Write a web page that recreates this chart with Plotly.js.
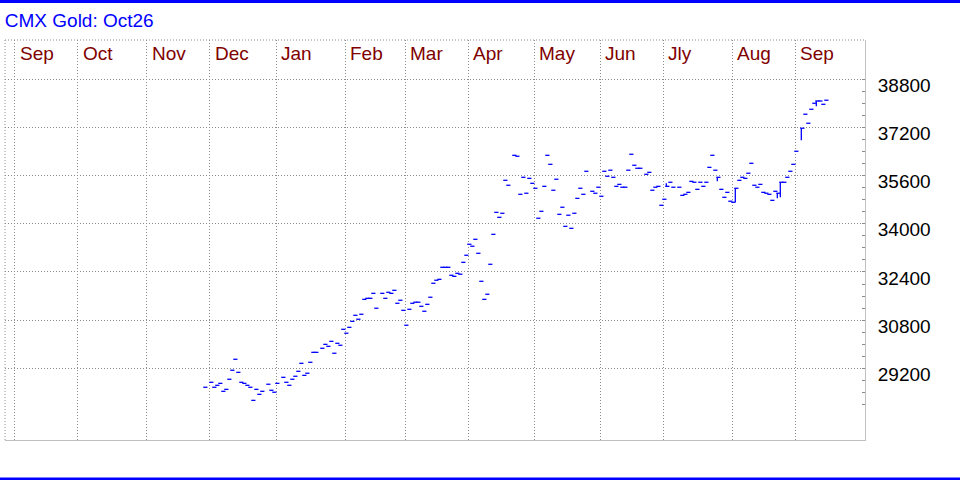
<!DOCTYPE html>
<html><head><meta charset="utf-8">
<script src="https://cdn.plot.ly/plotly-3.0.1.min.js"></script>
<style>html,body{margin:0;padding:0;background:#fff;}#chart{width:960px;height:480px;}</style>
</head><body><div id="chart"></div>
<script>
const chartTitle = 'CMX Gold: Oct26';
const monthLabels = ['Sep','Oct','Nov','Dec','Jan','Feb','Mar','Apr','May','Jun','Jly','Aug','Sep'];
const monthStarts = ['2024-09-02','2024-10-01','2024-11-01','2024-12-02','2025-01-01','2025-02-03',
  '2025-03-03','2025-04-01','2025-05-01','2025-06-02','2025-07-01','2025-08-01','2025-09-01'];
const yTicks = [29200, 30800, 32400, 34000, 35600, 37200, 38800];
const baseDate = '2024-10-01';
const seriesStart = '2024-11-28';
const closes = [
  28570,null,28735,28570,28635,28700,28435,28500,28835,29135,
  29500,29065,28735,28700,28635,28570,28135,28500,28335,28435,
  null,28670,28470,28405,28700,null,28900,28735,28635,28835,
  28935,29100,29365,28965,29035,29400,29730,29730,null,29865,
  29995,29930,30095,29700,30030,29965,30495,30365,30560,30760,
  30960,30830,30995,31490,31525,31525,31690,31195,null,31690,
  31525,31725,31690,31790,31360,31460,31125,30630,31160,31360,
  31395,31395,31260,31095,31325,31560,32025,32125,32155,32555,
  32555,32555,32290,32255,32355,32325,32720,32955,33320,33255,
  33485,33020,32090,31490,31660,32655,33650,34380,34215,34350,
  35445,35280,null,36275,36245,34980,35545,35015,35510,35345,
  35180,34185,34415,35245,36275,35975,35115,35480,34315,34550,
  33915,34285,33850,34350,34845,35180,34980,35745,null,35080,
  35015,35215,34915,35745,35580,35780,35545,35245,35310,35215,
  35215,35780,36310,35945,35845,35845,null,35645,35710,35115,
  35215,35245,34615,34815,35245,35380,35215,null,35215,34945,
  34980,35045,35410,35380,35145,35380,35245,35380,35875,36275,
  35780,35545,35145,34880,35045,34750,34715,35180,35445,35545,
  35510,35680,36010,35280,35215,35310,35045,35015,34980,34780,
  35080,35015,35380,35380,35545,35745,35975,36410,null,37175,
  37640,37340,37805,38005,38080,38080,37970,38105
];
// trading days (position in series) that traded a range
const rangePos  = [154, 171, 177, 191, 192, 199, 204];
const rangeLow  = [35245, 35410, 34715, 34850, 34880, 36775, 37905];
const rangeHigh = [35345, 35545, 35180, 35015, 35380, 37175, 38080];

function weekdayIndex(s) {
  const d = new Date(s + 'T00:00:00Z'), b = new Date(baseDate + 'T00:00:00Z');
  const lo = d < b ? d : b, hi = d < b ? b : d;
  let n = 0;
  for (let c = new Date(lo); c < hi; c.setUTCDate(c.getUTCDate() + 1)) {
    const w = c.getUTCDay();
    if (w !== 0 && w !== 6) n++;
  }
  return d < b ? -n : n;
}
const start = weekdayIndex(seriesStart);
const xs = closes.map((v, k) => start + k + 0.45);
const rx = [], ry = [];
rangePos.forEach((p, j) => {
  const x = start + p + 0.1;
  rx.push(x, x, null); ry.push(rangeLow[j], rangeHigh[j], null);
});
const monthX = monthStarts.map(weekdayIndex);

const minorVals = [];
for (let v = 28000; v <= 38800; v += 400) minorVals.push(v);

const BLUE = '#0000ff';
const GRID = '#8c8c8c';
const FONT = 'Liberation Sans, Arial, sans-serif';

const traces = [
  {type: 'scatter', mode: 'markers', x: xs, y: closes, hoverinfo: 'skip',
   marker: {symbol: 'line-ew', size: 3, color: BLUE, line: {width: 1.3, color: BLUE}}},
  {type: 'scatter', mode: 'lines', x: rx, y: ry, hoverinfo: 'skip', connectgaps: false,
   line: {color: BLUE, width: 1.3}}
];

const annotations = monthLabels.map((t, i) => ({
  text: t, x: monthX[i], xref: 'x', y: 0.967, yref: 'paper', xanchor: 'left', yanchor: 'middle',
  xshift: 3, showarrow: false, font: {family: FONT, size: 19, color: '#800000'}
}));

const layout = {
  width: 960, height: 480,
  margin: {l: 5, r: 95, t: 40, b: 40},
  paper_bgcolor: '#fff', plot_bgcolor: '#fff',
  showlegend: false, hovermode: false,
  title: {text: chartTitle, x: 0.005, xanchor: 'left', xref: 'container',
          y: 1 - 20.5 / 480, yanchor: 'middle', yref: 'container',
          font: {family: FONT, size: 19, color: BLUE}},
  xaxis: {range: [-24.33, 262.33], tickmode: 'array', tickvals: monthX, showticklabels: false,
          ticks: '', showgrid: true, gridcolor: GRID, griddash: '1px,2px', gridwidth: 1,
          zeroline: false, showline: true, linecolor: '#c0c0c0', linewidth: 1, fixedrange: true},
  yaxis: {side: 'right', range: [26818, 40106], tickmode: 'array', tickvals: yTicks,
          ticktext: yTicks.map(String), ticks: 'inside', ticklen: 3, tickcolor: GRID,
          showgrid: true, gridcolor: GRID, griddash: '1px,2px', gridwidth: 1,
          zeroline: false, showline: true, linecolor: '#c0c0c0', linewidth: 1,
          tickfont: {family: FONT, size: 19, color: '#000'},
          ticklabelshift: 6, ticklabelstandoff: 8, automargin: false, fixedrange: true,
          minor: {tickmode: 'array', tickvals: minorVals, ticks: 'inside', ticklen: 3,
                  tickcolor: GRID, showgrid: false}},
  annotations: annotations,
  shapes: [
    {type: 'line', xref: 'paper', yref: 'paper', x0: 0, x1: 1, y0: 1, y1: 1,
     line: {color: GRID, width: 1, dash: '1px,2px'}},
    {type: 'line', xref: 'paper', yref: 'paper', x0: 0, x1: 0, y0: 0, y1: 1,
     line: {color: GRID, width: 1, dash: '1px,2px'}},
    {type: 'rect', xref: 'paper', yref: 'paper', x0: -0.02, x1: 1.13, y0: 1 + 37 / 400, y1: 1 + 41 / 400,
     fillcolor: BLUE, line: {width: 0}},
    {type: 'rect', xref: 'paper', yref: 'paper', x0: -0.02, x1: 1.13, y0: -37.5 / 400, y1: -41 / 400,
     fillcolor: BLUE, line: {width: 0}}
  ]
};
Plotly.newPlot('chart', traces, layout, {displayModeBar: false, staticPlot: true});
</script></body></html>
